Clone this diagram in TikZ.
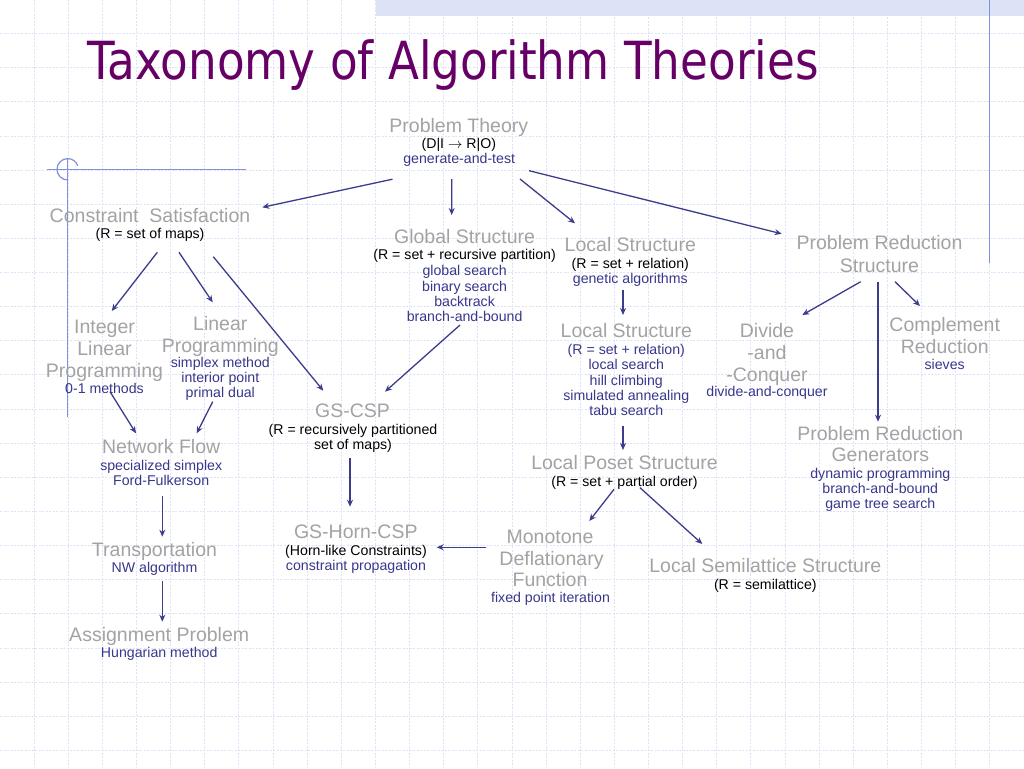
\documentclass[tikz,border=0pt]{standalone}
\usepackage{graphicx}
\usepackage{fontspec}
\setmainfont{Liberation Sans}
\newfontfamily\titlefont{DejaVu Sans}
\usetikzlibrary{arrows.meta}
\definecolor{gtxt}{RGB}{163,163,163}
\definecolor{btxt}{RGB}{55,55,140}
\definecolor{arr}{RGB}{60,60,140}
\definecolor{gridc}{RGB}{222,226,246}
\definecolor{deco}{RGB}{130,145,222}
\definecolor{band}{RGB}{221,227,246}
\definecolor{ttl}{RGB}{102,0,102}
\tikzset{
  gt/.style={anchor=base, inner sep=0pt, text=gtxt, font=\fontsize{19.5}{22}\selectfont},
  kt/.style={anchor=base, inner sep=0pt, text=black, font=\fontsize{14.15}{16}\selectfont},
  bt/.style={kt, text=btxt},
  conn/.style={draw=arr, line width=1.3pt, -{Stealth[length=7pt,width=6pt]}},
  gridline/.style={draw=gridc, line width=0.9pt, dash pattern=on 2pt off 1.5pt},
  decoline/.style={draw=deco, line width=1.2pt},
}
\begin{document}
\begin{tikzpicture}[x=1pt,y=-1pt]
\useasboundingbox (0,0) rectangle (1024,768);
\fill[white] (0,0) rectangle (1024,768);
% grid
\foreach \k in {1,...,29} { \draw[gridline] ({34.13*\k},0) -- ({34.13*\k},768); }
\foreach \k in {1,...,22} { \draw[gridline] (0,{34.13*\k-0.5}) -- (1024,{34.13*\k-0.5}); }
% band and decorations
\fill[band] (376,0) rectangle (1024,15.7);
\draw[deco, line width=1.5pt] (989.3,0) -- (989.3,263);
\draw[decoline] (46.7,169.3) -- (246,169.3);
\draw[decoline] (67.7,159) -- (67.7,417);
\draw[decoline] (67.7,169.3) ++(90:10.7) arc[start angle=90, end angle=340, radius=10.7];
% title
\node[anchor=base west, inner sep=0pt, text=ttl] (title) at (87.3,80)
  {\resizebox{731pt}{\height}{\titlefont\fontsize{52.5}{60}\selectfont Taxonomy of Algorithm Theories}};
% Problem Theory
\node[gt] (pt1) at (458.8,132.3) {Problem Theory};
\node[kt, text height=9pt, text depth=2.5pt] (pt2) at (458.8,148.3) {(D|I $\rightarrow$ R|O)};
\node[bt] (pt3) at (459.2,163.3) {generate-and-test};
% Constraint Satisfaction
\node[gt] (cs1) at (150,222.7) {Constraint\ \ Satisfaction};
\node[kt] (cs2) at (150,238.3) {(R = set of maps)};
% Global Structure
\node[gt] (gs1) at (464.6,243.3) {Global Structure};
\node[kt] (gs2) at (464.6,259.5) {(R = set + recursive partition)};
\node[bt] (gs3) at (464.6,275.7) {global search};
\node[bt] (gs4) at (464.6,291) {binary search};
\node[bt] (gs5) at (464.6,306.5) {backtrack};
\node[bt] (gs6) at (464.6,321.7) {branch-and-bound};
% Local Structure 1
\node[gt] (lsa1) at (630.3,251.7) {Local Structure};
\node[kt] (lsa2) at (630.3,268.3) {(R = set + relation)};
\node[bt] (lsa3) at (630.3,283.3) {genetic algorithms};
% Problem Reduction Structure
\node[gt] (prs1) at (879.5,249) {Problem Reduction};
\node[gt] (prs2) at (879.5,272.3) {Structure};
% Integer Linear Programming
\node[gt] (ilp1) at (104.5,333.3) {Integer};
\node[gt] (ilp2) at (104.5,355.7) {Linear};
\node[gt] (ilp3) at (104.5,377.3) {Programming};
\node[bt] (ilp4) at (104.5,393.3) {0-1 methods};
% Linear Programming
\node[gt] (lp1) at (220.3,330.7) {Linear};
\node[gt] (lp2) at (220.3,352.3) {Programming};
\node[bt] (lp3) at (220.3,367) {simplex method};
\node[bt] (lp4) at (220.3,382.3) {interior point};
\node[bt] (lp5) at (220.3,397.6) {primal dual};
% Local Structure 2
\node[gt] (lsb1) at (626.3,337.3) {Local Structure};
\node[bt] (lsb2) at (626.3,354) {(R = set + relation)};
\node[bt] (lsb3) at (626.3,369.7) {local search};
\node[bt] (lsb4) at (626.3,385) {hill climbing};
\node[bt] (lsb5) at (626.3,400.3) {simulated annealing};
\node[bt] (lsb6) at (626.3,415.7) {tabu search};
% Divide and Conquer
\node[gt] (dc1) at (767,337.3) {Divide};
\node[gt] (dc2) at (767,359.3) {-and};
\node[gt] (dc3) at (767,381) {-Conquer};
\node[bt] (dc4) at (767,396.7) {divide-and-conquer};
% Complement Reduction
\node[gt] (cr1) at (944.7,331.7) {Complement};
\node[gt] (cr2) at (944.7,353.3) {Reduction};
\node[bt] (cr3) at (944.7,369) {sieves};
% GS-CSP
\node[gt] (csp1) at (352.5,417.3) {GS-CSP};
\node[kt] (csp2) at (353,434) {(R = recursively partitioned};
\node[kt] (csp3) at (353,449) {set of maps)};
% Network Flow
\node[gt] (nf1) at (161.2,453.3) {Network Flow};
\node[bt] (nf2) at (161.2,470) {specialized simplex};
\node[bt] (nf3) at (161.2,485.3) {Ford-Fulkerson};
% Problem Reduction Generators
\node[gt] (prg1) at (880.3,440) {Problem Reduction};
\node[gt] (prg2) at (880.3,461.7) {Generators};
\node[bt] (prg3) at (880.3,478.3) {dynamic programming};
\node[bt] (prg4) at (880.3,493.5) {branch-and-bound};
\node[bt] (prg5) at (880.3,508.7) {game tree search};
% Local Poset Structure
\node[gt] (pos1) at (624.5,469.3) {Local Poset Structure};
\node[kt] (pos2) at (624.5,486) {(R = set + partial order)};
% Transportation
\node[gt] (tr1) at (154.5,556.7) {Transportation};
\node[bt] (tr2) at (154.5,572.7) {NW algorithm};
% GS-Horn-CSP
\node[gt] (horn1) at (355.8,538.3) {GS-Horn-CSP};
\node[kt] (horn2) at (356,555) {(Horn-like Constraints)};
\node[bt] (horn3) at (356,570.7) {constraint propagation};
% Monotone Deflationary Function
\node[gt] (mdf1) at (550,543.3) {Monotone};
\node[gt] (mdf2) at (551.5,565.2) {Deflationary};
\node[gt] (mdf3) at (550,586.7) {Function};
\node[bt] (mdf4) at (550.5,602.7) {fixed point iteration};
% Local Semilattice Structure
\node[gt] (lss1) at (765.3,572.7) {Local Semilattice Structure};
\node[kt] (lss2) at (765.3,589.3) {(R = semilattice)};
% Assignment Problem
\node[gt] (ap1) at (159.2,641.7) {Assignment Problem};
\node[bt] (ap2) at (159.2,657.7) {Hungarian method};
% connectors
\draw[conn] ([shift={(-66.7,15.9)}]pt3.base) -- ([shift={(112.3,-15.4)}]cs1.base);
\draw[conn] ([shift={(-7.5,15.7)}]pt3.base) -- ([shift={(-12.9,-28.3)}]gs1.base);
\draw[conn] ([shift={(60.8,15.7)}]pt3.base) -- ([shift={(-55.3,-28.4)}]lsa1.base);
\draw[conn] ([shift={(69.8,7.4)}]pt3.base) -- ([shift={(-97.8,-15.2)}]prs1.base);
\draw[conn] ([shift={(7.3,14)}]cs2.base) -- ([shift={(7.2,-22.3)}]ilp1.base);
\draw[conn] ([shift={(29,14)}]cs2.base) -- ([shift={(-7.6,-28.4)}]lp1.base);
\draw[conn] ([shift={(63.3,18.4)}]cs2.base) -- ([shift={(-29.2,-26.6)}]csp1.base);
\draw[conn] ([shift={(-4.6,3.3)}]gs6.base) -- ([shift={(32.5,-25.6)}]csp1.base);
\draw[conn] ([shift={(-7.3,6.7)}]lsa3.base) -- ([shift={(-3.3,-22.3)}]lsb1.base);
\draw[conn] ([shift={(-18.8,9.4)}]prs2.base) -- ([shift={(35.3,-22.3)}]dc1.base);
\draw[conn] ([shift={(-1.5,9.4)}]prs2.base) -- ([shift={(-2.3,-18.3)}]prg1.base);
\draw[conn] ([shift={(15.5,9.4)}]prs2.base) -- ([shift={(-24.7,-25.7)}]cr1.base);
\draw[conn] ([shift={(5.5,-1.6)}]ilp4.base) -- ([shift={(-25.2,-20)}]nf1.base);
\draw[conn] ([shift={(-7.6,4.1)}]lp5.base) -- ([shift={(35.5,-20)}]nf1.base);
\draw[conn] ([shift={(-3.3,10)}]lsb6.base) -- ([shift={(-1.5,-19.3)}]pos1.base);
\draw[conn] ([shift={(-3,9.3)}]csp3.base) -- ([shift={(-5.8,-31.6)}]horn1.base);
\draw[conn] ([shift={(1.1,10.7)}]nf3.base) -- ([shift={(7.8,-20)}]tr1.base);
\draw[conn] ([shift={(-10.5,3.3)}]pos2.base) -- ([shift={(39.3,-22.3)}]mdf1.base);
\draw[conn] ([shift={(15.5,1.7)}]pos2.base) -- ([shift={(-63,-28.7)}]lss1.base);
\draw[conn] ([shift={(-64,4)}]mdf1.base) -- ([shift={(80.7,-7.7)}]horn2.base);
\draw[conn] ([shift={(7.8,8.3)}]tr2.base) -- ([shift={(3.1,-20)}]ap1.base);
\end{tikzpicture}
\end{document}
